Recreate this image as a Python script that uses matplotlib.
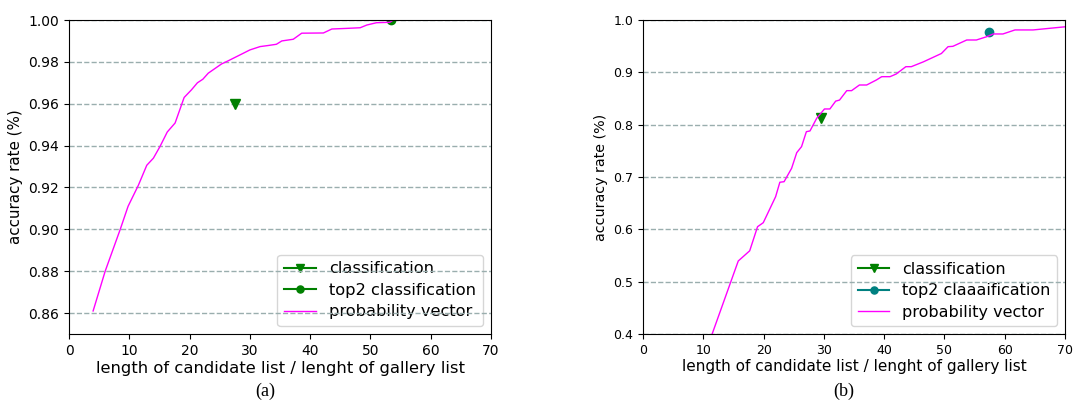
import numpy as np
import matplotlib
matplotlib.use('Agg')
import matplotlib.pyplot as plt

# panel (a): probability vector curve
a_len = [4, 6, 8.5, 9.8, 11.5, 12.9, 14.0, 15.1, 16.3, 17.6, 19.1, 20.3, 21.3, 22.2,
         23.1, 25.3, 26.4, 28.9, 30.0, 31.7, 33.0, 34.4, 35.3, 37.2, 38.6, 42.2, 43.6,
         46.1, 48.3, 49.4, 51.0, 53.2, 53.8, 70]
a_acc = [0.861, 0.880, 0.900, 0.911, 0.921, 0.9306, 0.934, 0.9396, 0.9465, 0.9508,
         0.963, 0.9666, 0.970, 0.9717, 0.9746, 0.979, 0.9805, 0.9841, 0.9857, 0.9873,
         0.9878, 0.9884, 0.990, 0.9908, 0.9937, 0.9938, 0.9957, 0.996, 0.9963, 0.9976,
         0.9987, 0.9989, 1.0, 1.0]
a_cls = (27.5, 0.96)
a_top2 = (53.4, 1.0)

# panel (b): probability vector curve
b_len = [10, 11.5, 15.8, 17.7, 19.0, 19.95, 22.0, 22.7, 23.4, 24.65, 25.5, 26.3, 27.1,
         27.7, 28.8, 30.1, 31.0, 31.96, 32.6, 33.8, 34.6, 35.9, 37.1, 38.7, 39.6, 40.97,
         42.0, 43.6, 44.5, 46.5, 49.5, 50.6, 51.4, 53.7, 55.3, 57.0, 58.1, 59.7, 61.7,
         64.7, 70]
b_acc = [0.351, 0.401, 0.5395, 0.559, 0.605, 0.6127, 0.6624, 0.690, 0.691, 0.7166,
         0.7465, 0.758, 0.7866, 0.788, 0.812, 0.830, 0.830, 0.845, 0.847, 0.865, 0.865,
         0.8758, 0.8758, 0.8853, 0.8917, 0.8917, 0.8968, 0.9108, 0.9108, 0.920, 0.936,
         0.949, 0.9497, 0.9618, 0.9618, 0.968, 0.9733, 0.9733, 0.981, 0.981, 0.987]
b_cls = (29.5, 0.812)
b_top2 = (57.4, 0.977)

W, H = 1074, 401
fig = plt.figure(figsize=(W / 100, H / 100), dpi=100)

grid_col = '#9aaeae'
xlab = 'length of candidate list / lenght of gallery list'


def panel(rect, lens, accs, cls, top2, top2_col, top2_name, ylim, yticks, yfmt,
          fs_xlab, fs_ylab, fs_tick, fs_leg, pad):
    ax = fig.add_axes([rect[0] / W, (H - rect[3]) / H, (rect[2] - rect[0]) / W,
                       (rect[3] - rect[1]) / H])
    ax.plot([cls[0]], [cls[1]], '-v', color='green', markersize=7, label='classification', zorder=2)
    ax.plot([top2[0]], [top2[1]], '-o', color=top2_col, markersize=6, label=top2_name, zorder=2)
    ax.plot(lens, accs, color='magenta', lw=1, label='probability vector', zorder=2)
    ax.set_xlim(0, 70)
    ax.set_ylim(*ylim)
    ax.set_xticks(np.arange(0, 71, 10))
    ax.set_yticks(yticks)
    ax.set_yticklabels([yfmt % v for v in yticks])
    ax.tick_params(labelsize=fs_tick)
    ax.set_axisbelow('line')
    ax.yaxis.grid(True, linestyle='--', color=grid_col, lw=1)
    ax.set_xlabel(xlab, fontsize=fs_xlab, labelpad=pad)
    ax.set_ylabel('accuracy rate (%)', fontsize=fs_ylab)
    leg = ax.legend(loc='lower right', fontsize=fs_leg, labelspacing=0.4, markerscale=0.85)
    leg.set_zorder(1)
    return ax


panel((69, 20, 491, 334), a_len, a_acc, a_cls, a_top2, 'green', 'top2 classification',
      (0.85, 1.0), [0.86, 0.88, 0.90, 0.92, 0.94, 0.96, 0.98, 1.00], '%.2f',
      11.8, 10.9, 10, 11.7, 2)
panel((643, 20, 1065, 334), b_len, b_acc, b_cls, b_top2, 'teal', 'top2 claaaification',
      (0.4, 1.0), [0.4, 0.5, 0.6, 0.7, 0.8, 0.9, 1.0], '%.1f',
      11, 10.3, 9, 11.5, 1.5)

fig.text(265 / W, 1 - 391 / H, '(a)', family='Liberation Serif', fontsize=13,
         ha='center', va='center')
fig.text(844 / W, 1 - 391 / H, '(b)', family='Liberation Serif', fontsize=13,
         ha='center', va='center')

fig.savefig('out.png', dpi=100)
